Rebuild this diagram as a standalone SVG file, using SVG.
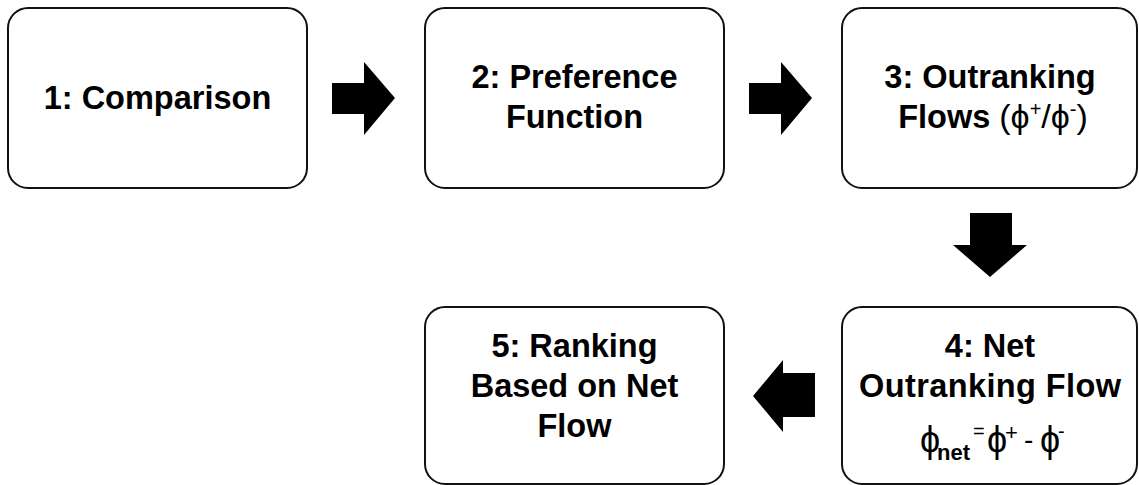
<svg xmlns="http://www.w3.org/2000/svg" width="1139" height="485" viewBox="0 0 1139 485">
<style>
.box{fill:#fff;stroke:#111;stroke-width:2}
.t{font-family:"Liberation Sans",Arial,sans-serif;font-weight:bold;font-size:32.5px;fill:#000;text-anchor:middle}
.f{font-family:"Liberation Sans",Arial,sans-serif;fill:#000;text-anchor:start}
.n{font-weight:normal}
.arr{fill:#000}
</style>
<rect width="1139" height="485" fill="#fff"/>
<g id="node1">
<rect class="box" x="8" y="8" width="299" height="180" rx="20"/>
<text class="t" x="157.5" y="109">1: Comparison</text>
</g>
<g id="node2">
<rect class="box" x="425" y="8" width="299" height="180" rx="20"/>
<text class="t" x="574.5" y="88">2: Preference</text>
<text class="t" x="574.5" y="128">Function</text>
</g>
<g id="node3">
<rect class="box" x="842" y="8" width="295" height="180" rx="20"/>
<text class="t" x="990" y="88">3: Outranking</text>
<text class="t" x="993" y="128">Flows <tspan class="n" font-size="34">(ϕ</tspan><tspan class="n" font-size="20" dy="-12">+</tspan><tspan class="n" font-size="34" dy="12">/ϕ</tspan><tspan class="n" font-size="20" dy="-12">-</tspan><tspan class="n" font-size="34" dy="12">)</tspan></text>
</g>
<g id="node4">
<rect class="box" x="842" y="307" width="295" height="177" rx="20"/>
<text class="t" x="990" y="357">4: Net</text>
<text class="t" x="990" y="397" font-size="33" textLength="262">Outranking Flow</text>
<text class="f" y="452" font-size="36"><tspan x="920">ϕ</tspan><tspan x="937" y="460" font-size="22" font-weight="bold">net</tspan><tspan x="973" y="438" font-size="20">=</tspan><tspan x="987" y="452">ϕ</tspan><tspan x="1005" y="440" font-size="22">+</tspan><tspan x="1024" y="449" font-size="28">-</tspan><tspan x="1040" y="452">ϕ</tspan><tspan x="1058" y="438" font-size="20">-</tspan></text>
</g>
<g id="node5">
<rect class="box" x="425" y="307" width="299" height="177" rx="20"/>
<text class="t" x="574.5" y="357">5: Ranking</text>
<text class="t" x="574.5" y="397">Based on Net</text>
<text class="t" x="574.5" y="437">Flow</text>
</g>
<g id="connectors">
<polygon class="arr" points="332,83 364,83 364,62 395,98 364,135 364,114 332,114"/>
<polygon class="arr" points="749,83 781,83 781,62 812,98 781,135 781,114 749,114"/>
<polygon class="arr" points="970,213 1012,213 1012,245 1027,245 990,277 953,245 970,245"/>
<polygon class="arr" points="815,373 815,417 783,417 783,432 753,396 783,360 783,373"/>
</g>
</svg>
